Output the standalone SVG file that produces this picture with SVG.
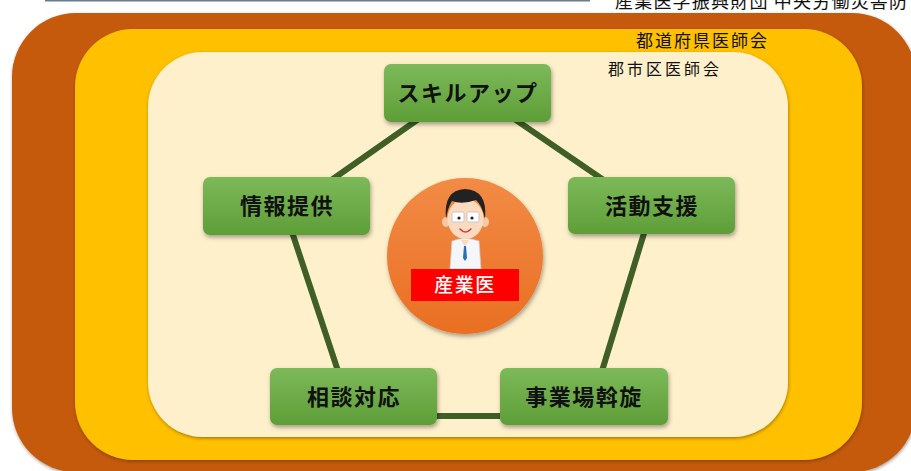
<svg xmlns="http://www.w3.org/2000/svg" width="911" height="471" viewBox="0 0 911 471">
  <defs>
    <linearGradient id="nodeFill" x1="0" y1="0" x2="0" y2="1">
      <stop offset="0" stop-color="#7DB95A"/>
      <stop offset="1" stop-color="#5E9E37"/>
    </linearGradient>
    <linearGradient id="coreFill" x1="0" y1="0" x2="0" y2="1">
      <stop offset="0" stop-color="#F28B45"/>
      <stop offset="1" stop-color="#E96F22"/>
    </linearGradient>
    <filter id="shadow" x="-10%" y="-10%" width="125%" height="130%">
      <feDropShadow dx="1" dy="2.5" stdDeviation="2" flood-color="#000" flood-opacity="0.35"/>
    </filter>
    <filter id="layerShadow" x="-5%" y="-5%" width="110%" height="110%">
      <feDropShadow dx="0.5" dy="1.5" stdDeviation="1.5" flood-color="#3a2000" flood-opacity="0.45"/>
    </filter>
  </defs>
  <style>
    .jp { font-family: "Noto Sans CJK JP", "Noto Sans CJK SC", sans-serif; }
    .node rect { fill: url(#nodeFill); filter: url(#shadow); }
    .node text { font-size: 22px; font-weight: 700; fill: #111; text-anchor: middle; letter-spacing: 1.5px; }
    .link { stroke: #3F5F27; stroke-width: 6; stroke-linecap: butt; fill: none; }
    .lvl { font-size: 17px; fill: #111; }
  </style>

  <rect width="911" height="471" fill="#FFFFFF"/>

  <!-- header rule and cropped credit line -->
  <line x1="45" y1="0.5" x2="590" y2="0.5" stroke="#6B7C8C" stroke-width="2"/>
  <text class="jp" x="615" y="8" font-size="18" letter-spacing="1.2" fill="#111">産業医学振興財団 中央労働災害防</text>

  <!-- nested organisation layers -->
  <g id="layer-prefecture-outer">
    <rect x="12" y="13" width="904" height="459" rx="64" fill="#C55A11" filter="url(#layerShadow)"/>
  </g>
  <g id="layer-prefecture">
    <rect x="75" y="29" width="787" height="431" rx="58" fill="#FFC000" filter="url(#layerShadow)"/>
    <text class="jp lvl" x="636" y="47" letter-spacing="2">都道府県医師会</text>
  </g>
  <g id="layer-district">
    <rect x="148" y="52" width="640" height="385" rx="55" fill="#FFF0CC" filter="url(#layerShadow)"/>
    <text class="jp" x="608" y="75" font-size="16" letter-spacing="3" fill="#111">郡市区医師会</text>
  </g>

  <!-- pentagon connectors -->
  <g id="connectors">
    <line class="link" x1="420" y1="118" x2="330" y2="181"/>
    <line class="link" x1="513" y1="118" x2="605" y2="181"/>
    <line class="link" x1="292" y1="232" x2="338" y2="371"/>
    <line class="link" x1="645" y1="230" x2="602" y2="371"/>
    <line class="link" x1="434" y1="416" x2="503" y2="416"/>
  </g>

  <!-- central occupational physician -->
  <g id="doctor">
    <circle cx="465" cy="256" r="78" fill="url(#coreFill)" filter="url(#shadow)"/>
    <!-- coat -->
    <path d="M452,241 Q465,236 479,241 L481,269 L450,269 Z" fill="#F4F6F8" stroke="#C9D0D6" stroke-width="0.8"/>
    <path d="M461,240 L465,247 L469,240 Z" fill="#FADBC0"/>
    <path d="M464,246 L466,246 L467,258 L465,261 L463,258 Z" fill="#2A6FB8"/>
    <!-- ears -->
    <ellipse cx="446" cy="222" rx="4" ry="5" fill="#F6C9A6"/>
    <ellipse cx="485" cy="222" rx="4" ry="5" fill="#F6C9A6"/>
    <!-- face -->
    <ellipse cx="465.5" cy="219" rx="18" ry="20" fill="#FADBC0"/>
    <!-- hair -->
    <path d="M446,219 Q443,190 465,189 Q488,190 485,219 Q482,205 476,200 Q462,205 452,201 Q448,207 446,219 Z" fill="#222"/>
    <!-- glasses -->
    <rect x="452" y="212" width="12" height="10" rx="1.5" fill="#FFFFFF" stroke="#BDBDBD" stroke-width="0.8"/>
    <rect x="467" y="212" width="12" height="10" rx="1.5" fill="#FFFFFF" stroke="#BDBDBD" stroke-width="0.8"/>
    <circle cx="459" cy="218" r="1.6" fill="#222"/>
    <circle cx="472" cy="218" r="1.6" fill="#222"/>
    <!-- smile -->
    <path d="M460,229 Q465.5,235 471,229" fill="none" stroke="#D23A4A" stroke-width="1.6" stroke-linecap="round"/>
    <!-- label -->
    <rect x="411" y="269" width="108" height="32" fill="#FF0000"/>
    <text class="jp" x="465" y="292" font-size="19" font-weight="500" fill="#FFFFFF" text-anchor="middle" letter-spacing="1.5">産業医</text>
  </g>

  <!-- role nodes -->
  <g id="node-skillup" class="node">
    <rect x="384" y="64" width="167" height="58" rx="7"/>
    <text class="jp" x="468" y="101">スキルアップ</text>
  </g>
  <g id="node-info" class="node">
    <rect x="203" y="177" width="167" height="58" rx="7"/>
    <text class="jp" x="287" y="214">情報提供</text>
  </g>
  <g id="node-support" class="node">
    <rect x="568" y="177" width="167" height="57" rx="7"/>
    <text class="jp" x="652" y="214">活動支援</text>
  </g>
  <g id="node-consult" class="node">
    <rect x="270" y="368" width="167" height="57" rx="7"/>
    <text class="jp" x="354" y="405">相談対応</text>
  </g>
  <g id="node-mediation" class="node">
    <rect x="500" y="368" width="168" height="57" rx="7"/>
    <text class="jp" x="584" y="405">事業場斡旋</text>
  </g>
</svg>
